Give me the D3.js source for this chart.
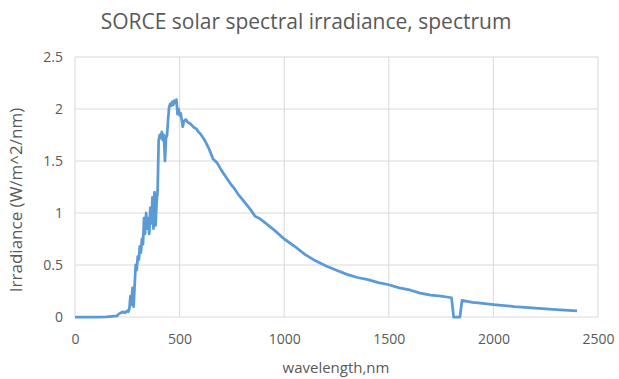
<!DOCTYPE html>
<html>
<head>
<meta charset="utf-8">
<script src="https://cdnjs.cloudflare.com/ajax/libs/d3/7.8.5/d3.min.js"></script>
<style>
  body { margin: 0; background: #fff; }
  text { font-family: "Open Sans", sans-serif; fill: #595959; }
</style>
</head>
<body>
<svg id="chart" width="619" height="379"></svg>
<script>
// wavelength (nm) and irradiance (W/m^2/nm)
const wavelength = [0, 100, 150, 200, 210, 220, 230, 240, 250, 255, 260, 265, 270, 275, 280, 285, 290, 295,
  300, 305, 310, 315, 320, 325, 330, 335, 340, 345, 350, 355, 360, 365, 370, 375, 380, 385, 390, 395,
  400, 405, 410, 415, 420, 425, 430, 435, 440, 445, 450, 455, 460, 465, 470, 475, 480, 485, 490, 495,
  500, 505, 510, 515, 520, 530, 540, 550, 560, 570, 580, 590, 600, 620, 640, 660, 680, 700, 720, 740,
  760, 780, 800, 820, 840, 860, 880, 900, 950, 1000, 1050, 1100, 1150, 1200, 1250, 1300, 1350, 1400,
  1450, 1500, 1550, 1600, 1650, 1700, 1750, 1800, 1810, 1840, 1850, 1900, 1950, 2000, 2100, 2200, 2300, 2400];
const irradiance = [0, 0, 0.002, 0.01, 0.03, 0.04, 0.05, 0.04, 0.06, 0.05, 0.08, 0.2, 0.12, 0.28, 0.1, 0.3, 0.5, 0.45,
  0.58, 0.55, 0.68, 0.62, 0.75, 0.7, 0.95, 0.8, 1.0, 0.85, 0.95, 0.8, 1.05, 0.9, 1.15, 0.85, 1.2, 0.88, 1.1, 1.22,
  1.7, 1.75, 1.72, 1.78, 1.7, 1.75, 1.5, 1.72, 1.75, 1.9, 2.02, 2.05, 2.03, 2.07, 2.04, 2.08, 2.06, 2.09, 1.95, 2.0,
  1.94, 1.96, 1.9, 1.83, 1.88, 1.9, 1.87, 1.86, 1.84, 1.82, 1.81, 1.78, 1.76, 1.7, 1.62, 1.52, 1.48, 1.41, 1.35, 1.29,
  1.24, 1.18, 1.13, 1.08, 1.03, 0.97, 0.95, 0.92, 0.84, 0.75, 0.68, 0.6, 0.54, 0.49, 0.45, 0.41, 0.38, 0.36,
  0.33, 0.31, 0.28, 0.26, 0.23, 0.21, 0.2, 0.185, 0, 0, 0.16, 0.14, 0.13, 0.12, 0.1, 0.085, 0.072, 0.06];
const xTicks = [0, 500, 1000, 1500, 2000, 2500];
const yTicks = [0, 0.5, 1, 1.5, 2, 2.5];

const svg = d3.select('#chart'),
  margin = {left: 75, right: 21, top: 57, bottom: 62},
  width = +svg.attr('width'),
  height = +svg.attr('height');

const x = d3.scaleLinear().domain([0, 2500]).range([margin.left, width - margin.right]);
const y = d3.scaleLinear().domain([0, 2.5]).range([height - margin.bottom, margin.top]);

// gridlines
svg.append('g').selectAll('line').data(yTicks).join('line')
  .attr('x1', x(0)).attr('x2', x(2500))
  .attr('y1', d => y(d)).attr('y2', d => y(d))
  .style('stroke', '#d9d9d9').attr('stroke-width', 1);
svg.append('g').selectAll('line').data(xTicks).join('line')
  .attr('x1', d => x(d)).attr('x2', d => x(d))
  .attr('y1', y(0)).attr('y2', y(2.5))
  .style('stroke', '#d9d9d9').attr('stroke-width', 1);

// axes, labels only
const xAxis = svg.append('g').attr('transform', 'translate(0,' + y(0) + ')')
  .call(d3.axisBottom(x).tickValues(xTicks).tickSize(0).tickPadding(17).tickFormat(d3.format('d')));
const yAxis = svg.append('g').attr('transform', 'translate(' + x(0) + ',0)')
  .call(d3.axisLeft(y).tickValues(yTicks).tickSize(0).tickPadding(12).tickFormat(d => String(d)));
[xAxis, yAxis].forEach(a => {
  a.select('.domain').remove();
  a.selectAll('text').style('font-size', '14px').style('fill', '#595959').style('font-family', '"Open Sans", sans-serif');
});

// spectrum line
const line = d3.line().x((d, i) => x(wavelength[i])).y(d => y(d));
svg.append('path')
  .datum(irradiance)
  .attr('d', line)
  .style('fill', 'none')
  .style('stroke', '#5b9bd5')
  .attr('stroke-width', 2.75)
  .attr('stroke-linejoin', 'round');

// titles
svg.append('text').text('SORCE solar spectral irradiance, spectrum')
  .attr('x', 306).attr('y', 29).attr('text-anchor', 'middle')
  .style('font-size', '21px');
svg.append('text').text('wavelength,nm')
  .attr('x', 336).attr('y', 373).attr('text-anchor', 'middle')
  .style('font-size', '15px');
svg.append('text').text('Irradiance (W/m^2/nm)')
  .attr('transform', 'translate(22,' + 200 + ') rotate(-90)')
  .attr('text-anchor', 'middle')
  .style('font-size', '17px');
</script>
</body>
</html>
